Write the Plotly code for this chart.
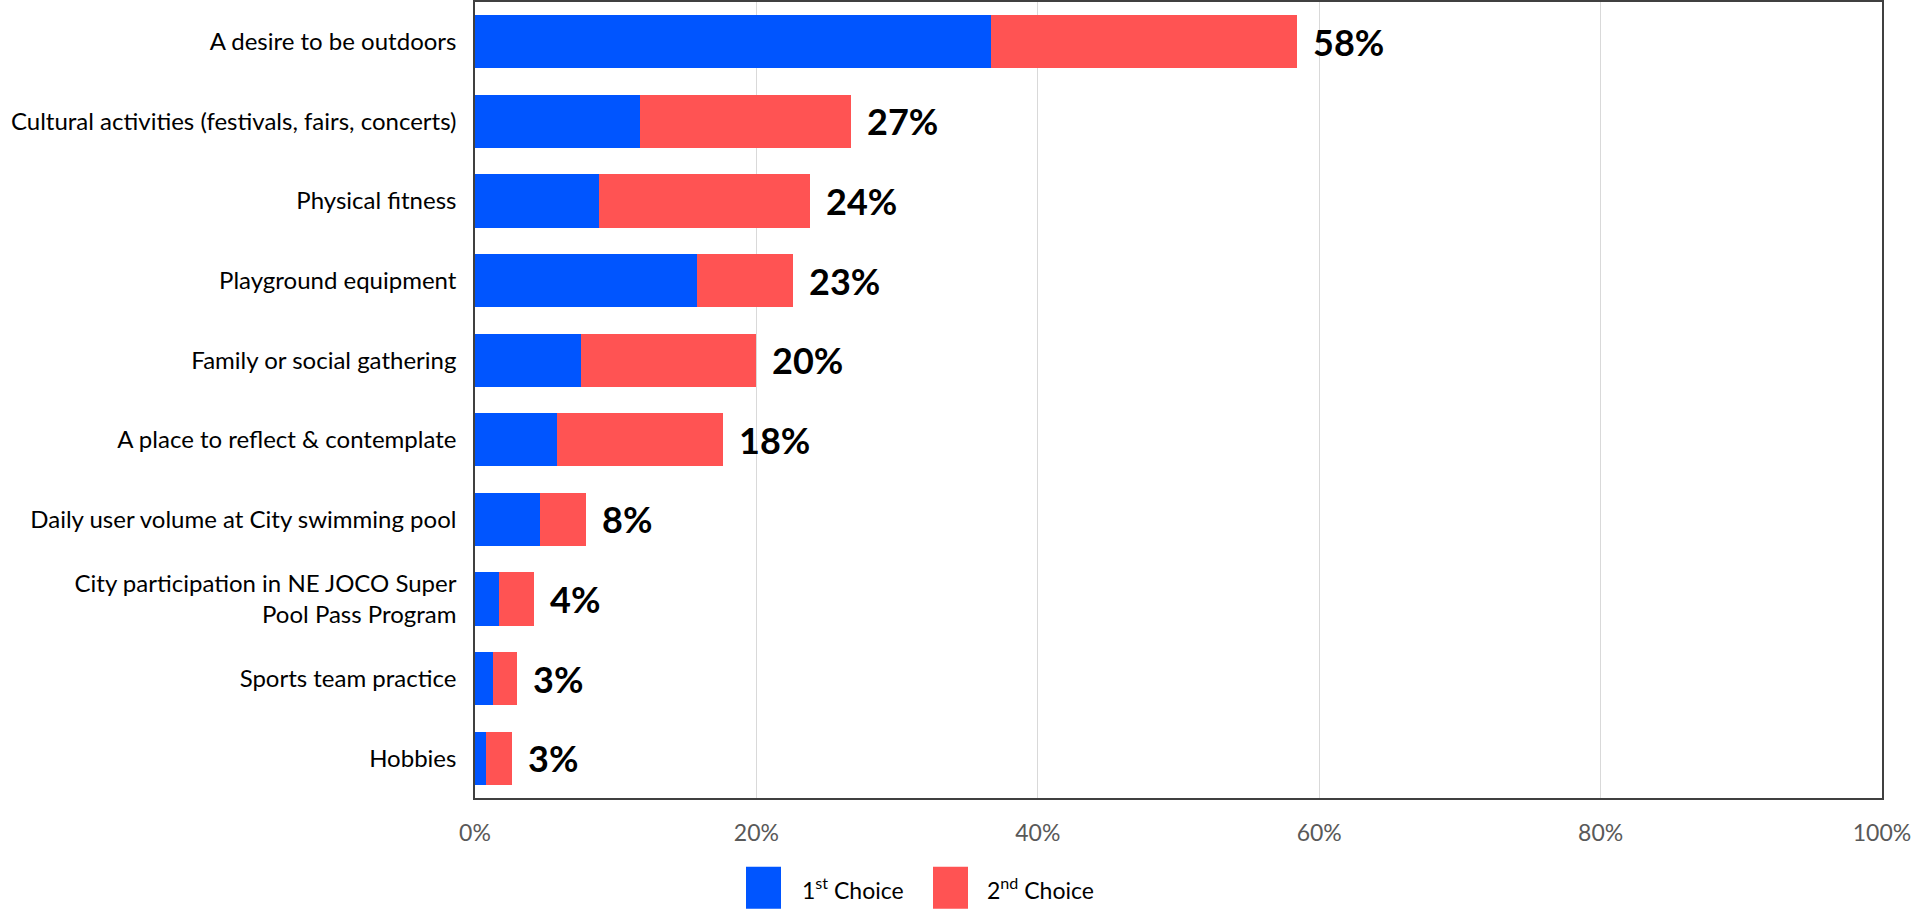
import plotly.graph_objects as go

# Survey responses: share of respondents choosing each reason (percent)
categories = [
    "A desire to be outdoors",
    "Cultural activities (festivals, fairs, concerts)",
    "Physical fitness",
    "Playground equipment",
    "Family or social gathering",
    "A place to reflect & contemplate",
    "Daily user volume at City swimming pool",
    "City participation in NE JOCO Super<br>Pool Pass Program",
    "Sports team practice",
    "Hobbies",
]
first_choice = [36.7, 11.7, 8.8, 15.8, 7.5, 5.8, 4.6, 1.7, 1.3, 0.8]
second_choice = [21.7, 15.0, 15.0, 6.8, 12.5, 11.8, 3.3, 2.5, 1.7, 1.8]
x_ticks = [0, 20, 40, 60, 80, 100]
series_names = ["1<sup>st</sup> Choice", "2<sup>nd</sup> Choice"]

BLUE = "#0055FF"
RED = "#FF5353"
FONT = "Lato"

totals = [a + b for a, b in zip(first_choice, second_choice)]

fig = go.Figure()
fig.add_trace(go.Bar(
    y=categories, x=first_choice, orientation="h", name=series_names[0],
    marker=dict(color=BLUE, line=dict(width=0)), showlegend=False,
    hoverinfo="x+y",
))
fig.add_trace(go.Bar(
    y=categories, x=second_choice, orientation="h", name=series_names[1],
    marker=dict(color=RED, line=dict(width=0)), showlegend=False,
    hoverinfo="x+y",
))

# Total labels at the end of each stacked bar
for cat, tot in zip(categories, totals):
    fig.add_annotation(
        x=tot, y=cat, xref="x", yref="y", text=f"<b>{tot:.0f}%</b>",
        showarrow=False, xanchor="left", yanchor="middle", xshift=14,
        font=dict(family=FONT, size=36, color="#000000"),
    )

W, H = 1917, 914
L, R, T, B = 475, 35, 0, 116
pw, ph = W - L - R, H - T - B


def px_x(p):
    return (p - L) / pw


def px_y(p):
    return (H - B - p) / ph


# Custom legend with large swatches
legend_items = [
    (746, 781, 800, series_names[0], BLUE),
    (933, 968, 985, series_names[1], RED),
]
for x0, x1, tx, label, col in legend_items:
    fig.add_shape(
        type="rect", xref="paper", yref="paper",
        x0=px_x(x0), x1=px_x(x1), y0=px_y(909), y1=px_y(867),
        fillcolor=col, line=dict(width=0),
    )
    fig.add_annotation(
        x=px_x(tx), y=px_y(889), xref="paper", yref="paper", text=label,
        showarrow=False, xanchor="left", yanchor="middle",
        font=dict(family=FONT, size=23, color="#000000"),
    )

fig.update_layout(
    width=W, height=H,
    margin=dict(l=L, r=R, t=T, b=B, pad=0),
    barmode="stack", bargap=0.333,
    plot_bgcolor="#FFFFFF", paper_bgcolor="#FFFFFF",
    font=dict(family=FONT, size=24, color="#000000"),
    showlegend=False,
)
fig.update_xaxes(
    range=[0, 100], tickvals=x_ticks, ticktext=[f"{v}%" for v in x_ticks],
    showgrid=True, gridcolor="#D9D9D9", gridwidth=1, zeroline=False,
    showline=True, linecolor="#404040", linewidth=1.5, mirror=True,
    tickfont=dict(family=FONT, size=23, color="#595959"),
    ticks="", ticklabelstandoff=14,
)
fig.update_yaxes(
    categoryorder="array", categoryarray=categories, autorange="reversed",
    showgrid=False, zeroline=False,
    showline=True, linecolor="#404040", linewidth=1.5, mirror=True,
    tickfont=dict(family=FONT, size=24, color="#000000"),
    ticks="", ticklabelstandoff=12,
)

fig.write_html("out.html")
